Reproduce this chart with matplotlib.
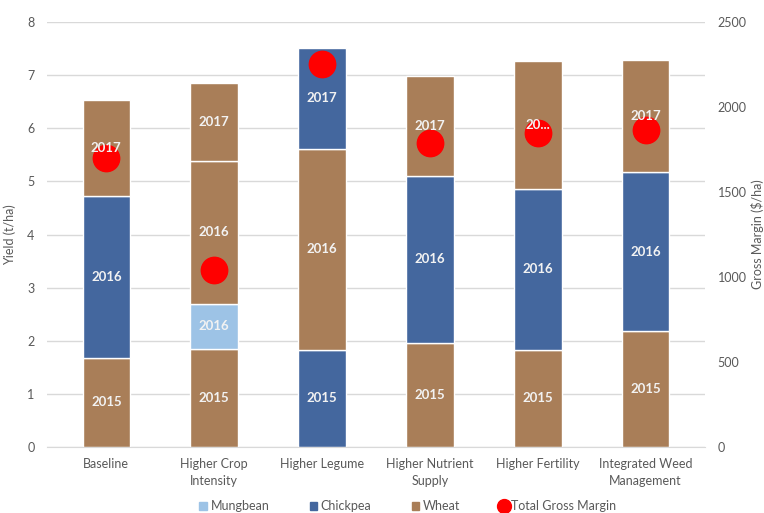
import numpy as np
import matplotlib.pyplot as plt
from matplotlib.patches import Patch
from matplotlib.lines import Line2D

plt.rcParams['font.family'] = ['Lato', 'DejaVu Sans']

scenarios = ['Baseline', 'Higher Crop\nIntensity', 'Higher Legume',
             'Higher Nutrient\nSupply', 'Higher Fertility',
             'Integrated Weed\nManagement']

# crop sequence per scenario, bottom to top
seg_crops = [
    ['Wheat', 'Chickpea', 'Wheat'],
    ['Wheat', 'Mungbean', 'Wheat', 'Wheat'],
    ['Chickpea', 'Wheat', 'Chickpea'],
    ['Wheat', 'Chickpea', 'Wheat'],
    ['Wheat', 'Chickpea', 'Wheat'],
    ['Wheat', 'Chickpea', 'Wheat'],
]
seg_labels = [
    ['2015', '2016', '2017'],
    ['2015', '2016', '2016', '2017'],
    ['2015', '2016', '2017'],
    ['2015', '2016', '2017'],
    ['2015', '2016', '20...'],
    ['2015', '2016', '2017'],
]
# yield per segment (t/ha)
seg_yields = [
    [1.68, 3.05, 1.80],
    [1.85, 0.84, 2.70, 1.47],
    [1.83, 3.78, 1.90],
    [1.96, 3.14, 1.89],
    [1.83, 3.03, 2.41],
    [2.18, 3.00, 2.11],
]
gross_margin = [1700, 1040, 2255, 1790, 1850, 1865]

colors = {'Mungbean': '#9DC3E6', 'Chickpea': '#44679E', 'Wheat': '#A97E58'}
txt = '#595959'

fig = plt.figure(figsize=(7.64, 5.13), dpi=100)
ax = fig.add_axes([47 / 764, 1 - 447 / 513, 658 / 764, 425 / 513])
ax2 = ax.twinx()

x = np.arange(len(scenarios))
w = 0.44
for i in range(len(scenarios)):
    bottom = 0
    for crop, lab, h in zip(seg_crops[i], seg_labels[i], seg_yields[i]):
        ax.bar(x[i], h, w, bottom=bottom, color=colors[crop],
               edgecolor='white', linewidth=1, zorder=2)
        ax2.text(x[i], (bottom + h / 2) * 2500 / 8, lab, ha='center',
                 va='center', color='#F2F2F2', fontsize=9.5,
                 fontweight='bold', zorder=5)
        bottom += h

ax2.plot(x, gross_margin, 'o', color='#FF0000', markersize=19,
         linestyle='none', zorder=3)

ax.set_xlim(-0.55, len(scenarios) - 0.45)
ax.set_ylim(0, 8)
ax.set_yticks(range(9))
ax2.set_ylim(0, 2500)
ax2.set_yticks(range(0, 2501, 500))
ax.set_xticks(x)
ax.set_xticklabels(scenarios, color=txt, fontsize=9, linespacing=1.5)
ax.grid(axis='y', color='#D9D9D9', linewidth=1, zorder=0)
ax.set_axisbelow(True)

for a in (ax, ax2):
    for s in a.spines.values():
        s.set_visible(False)
    a.tick_params(length=0, labelsize=9, labelcolor=txt)
ax.spines['bottom'].set_visible(True)
ax.spines['bottom'].set_color('#D9D9D9')
ax.tick_params(axis='y', pad=9)
ax.tick_params(axis='x', pad=8)
ax2.tick_params(axis='y', pad=9)

ax.set_ylabel('Yield (t/ha)', color=txt, fontsize=9, labelpad=8)
ax2.set_ylabel('Gross Margin ($/ha)', color=txt, fontsize=9, labelpad=3)

handles = [Patch(color=colors['Mungbean']), Patch(color=colors['Chickpea']),
           Patch(color=colors['Wheat']),
           Line2D([], [], marker='o', color='#FF0000', linestyle='none',
                  markersize=10)]
leg = fig.legend(handles, ['Mungbean', 'Chickpea', 'Wheat', 'Total Gross Margin'],
                 loc='center', bbox_to_anchor=(408 / 764, 1 - 506 / 513),
                 ncol=4, frameon=False, fontsize=9, handlelength=0.6,
                 handleheight=0.6, handletextpad=0.3, columnspacing=3.2)
for t in leg.get_texts():
    t.set_color(txt)

fig.savefig('out.png', dpi=100)
